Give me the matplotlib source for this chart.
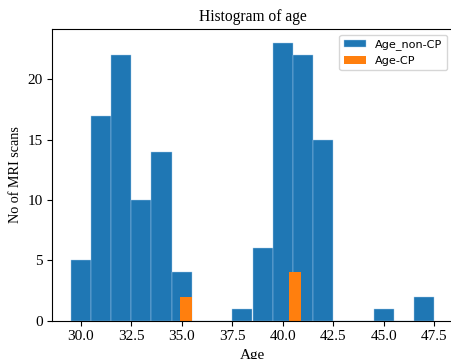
import numpy as np
import matplotlib.pyplot as plt

# bin edges and counts
edges_noncp = [29.5, 30.5, 31.5, 32.5, 33.5, 34.5, 35.5, 36.5, 37.5, 38.5,
               39.5, 40.5, 41.5, 42.5, 43.5, 44.5, 45.5, 46.5, 47.5]
counts_noncp = [5, 17, 22, 10, 14, 4, 0, 0, 1, 6, 23, 22, 15, 0, 0, 1, 0, 2]

edges_cp = [34.9, 35.5, 36.1, 36.7, 37.3, 37.9, 38.5, 39.1, 39.7, 40.3, 40.9]
counts_cp = [2, 0, 0, 0, 0, 0, 0, 0, 0, 4]

W, H = 452, 359
fig = plt.figure(figsize=(W / 100, H / 100), dpi=100)
ax = fig.add_axes([52.3 / W, (H - 320.7) / H, (452.7 - 52.3) / W, (320.7 - 29.3) / H])

ax.hist(edges_noncp[:-1], bins=edges_noncp, weights=counts_noncp,
        color='#1f77b4', edgecolor='#a8cbeb', linewidth=0.3, label='Age_non-CP')
ax.hist(edges_cp[:-1], bins=edges_cp, weights=counts_cp,
        color='#ff7f0e', label='Age-CP')

serif = 'Liberation Serif'
ax.set_title('Histogram of age', family=serif, fontsize=11.2)
ax.set_xlabel('Age', family=serif, fontsize=11)
ax.set_ylabel('No of MRI scans', family=serif, fontsize=10.2)
ax.set_xticks([30, 32.5, 35, 37.5, 40, 42.5, 45, 47.5])
ax.set_xticklabels(['30.0', '32.5', '35.0', '37.5', '40.0', '42.5', '45.0', '47.5'])
for lab in ax.get_xticklabels() + ax.get_yticklabels():
    lab.set_family(serif)
    lab.set_fontsize(11)
ax.legend(loc='upper right', fontsize=8.1)

fig.savefig('out.png', dpi=100)
